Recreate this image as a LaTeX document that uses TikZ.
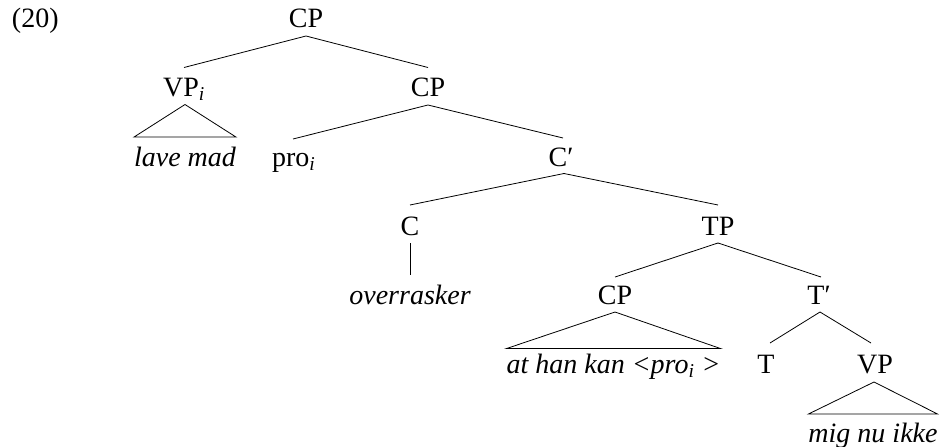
\documentclass[tikz,border=0pt]{standalone}
\usepackage{fontspec}
\setmainfont{Liberation Serif}
\begin{document}
\begin{tikzpicture}[x=1pt,y=-1pt,
  lab/.style={inner sep=0pt,outer sep=0pt,anchor=base,font=\fontsize{28}{34}\selectfont},
  leaf/.style={lab,font=\fontsize{28}{34}\selectfont\itshape},
  edge/.style={line width=0.8pt,line join=miter}]
\useasboundingbox (0,0) rectangle (940,447);
% level 0
\node[lab,anchor=base west] (ex) at (12,27.5) {(20)};
\node[lab] (cp0) at (306,27.5) {CP};
% level 1
\node[lab] (vpi) at (184,96.5) {VP\textsubscript{\itshape i}};
\node[lab] (cp1) at (428,96.5) {CP};
% level 2
\node[leaf] (lave) at (185,166) {lave mad};
\node[lab,anchor=base west] (pro) at (272,166) {pro\textsubscript{\itshape i}};
\node[lab] (cbar) at (561,166) {C′};
% level 3
\node[lab] (c) at (410,235) {C};
\node[lab] (tp) at (718,235) {TP};
% level 4
\node[leaf] (over) at (410,304) {overrasker};
\node[lab] (cp2) at (615,304) {CP};
\node[lab] (tbar) at (819,304) {T′};
% level 5
\node[leaf] (athan) at (613.5,373) {at han kan <pro\textsubscript{i} >};
\node[lab] (t) at (766,373) {T};
\node[lab] (vp) at (875,373) {VP};
% level 6
\node[leaf] (mig) at (873,442) {mig nu ikke};
% connectors
\draw[edge] ([yshift=29pt]vpi.base) -- ([yshift=-8.5pt]cp0.base) -- ([yshift=29pt]cp1.base);
\draw[edge] ([xshift=21pt,yshift=27pt]pro.base west) -- ([yshift=-8.5pt]cp1.base) -- ([xshift=2pt,yshift=28pt]cbar.base);
\draw[edge] ([yshift=30pt]c.base) -- ([xshift=3pt,yshift=-7.5pt]cbar.base) -- ([yshift=30pt]tp.base);
\draw[edge] ([yshift=-8pt]c.base) -- ([yshift=29pt]over.base);
\draw[edge] ([yshift=27pt]cp2.base) -- ([yshift=-8pt]tp.base) -- ([xshift=2pt,yshift=27pt]tbar.base);
\draw[edge] ([xshift=4pt,yshift=30pt]t.base) -- ([xshift=1pt,yshift=-8pt]tbar.base) -- ([xshift=-4pt,yshift=30pt]vp.base);
% triangles
\draw[edge] ([xshift=1pt,yshift=-8pt]vpi.base) -- ([yshift=29pt]lave.base east) -- ([yshift=29pt]lave.base west) -- cycle;
\draw[edge] ([yshift=-8pt]cp2.base) -- ([yshift=24.5pt]athan.base east) -- ([yshift=24.5pt]athan.base west) -- cycle;
\draw[edge] ([xshift=-1pt,yshift=-9pt]vp.base) -- ([yshift=28pt]mig.base east) -- ([yshift=28pt]mig.base west) -- cycle;
\end{tikzpicture}
\end{document}
